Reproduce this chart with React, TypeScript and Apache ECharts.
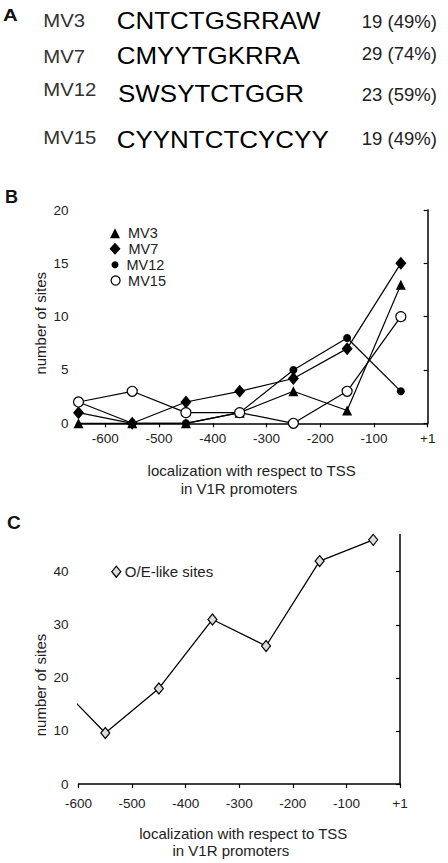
import React, { useEffect, useRef } from 'react';
import * as echarts from 'echarts';

// ---- Panel A data ----
const motifNames = ['MV3', 'MV7', 'MV12', 'MV15'];
const motifSeqs = ['CNTCTGSRRAW', 'CMYYTGKRRA', 'SWSYTCTGGR', 'CYYNTCTCYCYY'];
const motifCounts = ['19 (49%)', '29 (74%)', '23 (59%)', '19 (49%)'];

// ---- Panel B data ----
const positionsB = [-650, -550, -450, -350, -250, -150, -50];
const mv3 = [0, 0, 0, 1, 3, 1.2, 13];
const mv7 = [1, 0, 2, 3, 4.2, 7, 15];
const mv12 = [2, 0, 0, 1, 5, 8, 3];
const mv15 = [2, 3, 1, 1, 0, 3, 10];
const xTicksB = [-600, -500, -400, -300, -200, -100, 0];
const yTicksB = [0, 5, 10, 15, 20];

// ---- Panel C data ----
const positionsC = [-650, -550, -450, -350, -250, -150, -50];
const oeSites = [20, 9.6, 18, 31, 26, 42, 46];
const xTicksC = [-600, -500, -400, -300, -200, -100, 0];
const yTicksC = [0, 10, 20, 30, 40];

const FONT = '"Liberation Sans", Arial, Helvetica, sans-serif';

const pairs = (xs: number[], ys: number[]) => xs.map((x, i) => [x, ys[i]]);
const xFmt = (v: number) => (v === 0 ? '+1' : String(v));

export default function App() {
  const ref = useRef<HTMLDivElement>(null);

  useEffect(() => {
    if (!ref.current) return;
    const chart = echarts.init(ref.current, undefined, { renderer: 'svg' });

    const rowNameY = [20.8, 56.7, 90, 138.3];
    const rowSeqY = [20, 55.7, 93.7, 139];
    const rowCntY = [21.2, 53.7, 95, 138.3];
    const rowSeqX = [116.7, 116.7, 118, 116.7];

    const txt = (text: string, x: number, y: number, size: number, opts: any = {}) => ({
      type: 'text',
      x,
      y,
      scaleX: opts.scaleX ?? 1,
      rotation: opts.rotation ?? 0,
      silent: true,
      style: {
        text,
        fontSize: size,
        fontFamily: FONT,
        fontWeight: opts.bold ? 'bold' : 'normal',
        fill: opts.color ?? '#222',
        textAlign: opts.align ?? 'left',
        textVerticalAlign: 'middle',
      },
    });

    const graphics: any[] = [
      txt('A', 3, 15.5, 17, { bold: true, scaleX: 1.2, color: '#111' }),
      txt('B', 5, 196.7, 18, { bold: true, color: '#111' }),
      txt('C', 7, 522.5, 19, { bold: true, color: '#111' }),
      txt('localization with respect to TSS', 251.7, 470, 15, { align: 'center' }),
      txt('in V1R promoters', 239, 488.3, 15, { align: 'center' }),
      txt('localization with respect to TSS', 243.3, 833.3, 15, { align: 'center' }),
      txt('in V1R promoters', 230.8, 850, 15, { align: 'center' }),
      txt('number of sites', 40, 323.3, 15, { align: 'center', rotation: Math.PI / 2 }),
      txt('number of sites', 40, 685, 15, { align: 'center', rotation: Math.PI / 2 }),
    ];
    motifNames.forEach((n, i) => {
      graphics.push(txt(n, 43.3, rowNameY[i], 17.5, { scaleX: 1.16, color: '#333' }));
      graphics.push(txt(motifSeqs[i], rowSeqX[i], rowSeqY[i], 24.5, { scaleX: 1.06, color: '#000' }));
      graphics.push(txt(motifCounts[i], 361.7, rowCntY[i], 18, { scaleX: 1.03, color: '#222' }));
    });

    const axisLine = { show: true, lineStyle: { color: '#000', width: 1.5 } };
    const axisTickX = (vals: number[]) => ({
      show: true, inside: false, length: 4, customValues: vals, lineStyle: { color: '#000', width: 1.2 },
    });

    const legendB = (name: string, icon: string, w: number, h: number, cy: number, style: any) => ({
      orient: 'vertical',
      left: 115 - w / 2,
      top: cy - Math.max(h, 14) / 2,
      padding: 0,
      itemWidth: w,
      itemHeight: h,
      selectedMode: false,
      data: [{ name, icon }],
      itemStyle: style,
      textStyle: { fontSize: 14.5, lineHeight: 14, color: '#222', fontFamily: FONT, padding: [0, 0, 0, 3] },
    });

    const black = { color: '#000', borderColor: '#000', borderWidth: 0 };
    const open = { color: '#fff', borderColor: '#000', borderWidth: 1.2 };
    const grey = { color: '#dcdcdc', borderColor: '#000', borderWidth: 1.2 };

    const lineBase = {
      type: 'line',
      xAxisIndex: 0,
      yAxisIndex: 0,
      showAllSymbol: true,
      clip: true,
      lineStyle: { color: '#000', width: 1.2 },
      emphasis: { disabled: true },
    };

    chart.setOption({
      animation: false,
      backgroundColor: '#fff',
      textStyle: { fontFamily: FONT },
      graphic: graphics,
      grid: [
        { left: 78.5, top: 210, width: 349.2, height: 213.3 },
        { left: 78.5, top: 534.55, width: 321.5, height: 249.45 },
      ],
      xAxis: [
        {
          type: 'value', gridIndex: 0, min: -650, max: 0,
          axisLine, axisTick: axisTickX(xTicksB), splitLine: { show: false },
          axisLabel: { customValues: xTicksB, formatter: xFmt, margin: 8, fontSize: 13.5, color: '#222', fontFamily: FONT },
        },
        {
          type: 'value', gridIndex: 1, min: -600, max: 0,
          axisLine, axisTick: axisTickX(xTicksC), splitLine: { show: false },
          axisLabel: { customValues: xTicksC, formatter: xFmt, margin: 12.5, fontSize: 13.5, color: '#222', fontFamily: FONT },
        },
      ],
      yAxis: [
        {
          type: 'value', gridIndex: 0, min: 0, max: 20, interval: 5,
          axisLine, axisTick: { show: true, length: 4, customValues: yTicksB, lineStyle: { color: '#000', width: 1.2 } },
          splitLine: { show: false },
          axisLabel: { customValues: yTicksB, margin: 10, fontSize: 13.5, color: '#222', fontFamily: FONT },
        },
        {
          type: 'value', gridIndex: 1, min: 0, max: 47,
          axisLine, axisTick: { show: true, length: 4, customValues: yTicksC, lineStyle: { color: '#000', width: 1.2 } },
          splitLine: { show: false },
          axisLabel: { customValues: yTicksC, margin: 10, fontSize: 13.5, color: '#222', fontFamily: FONT },
        },
      ],
      legend: [
        legendB('MV3', 'triangle', 10, 10, 232.7, black),
        legendB('MV7', 'diamond', 11, 12, 248.3, black),
        legendB('MV12', 'circle', 7, 7, 264.3, black),
        legendB('MV15', 'circle', 9, 9, 280, open),
        {
          orient: 'vertical', left: 115.7 - 4.5, top: 571.7 - 7.5, padding: 0,
          itemWidth: 9, itemHeight: 11, selectedMode: false,
          data: [{ name: 'O/E-like sites', icon: 'diamond' }],
          itemStyle: grey,
          textStyle: { fontSize: 15, lineHeight: 15, color: '#222', fontFamily: FONT, padding: [0, 0, 0, -1] },
        },
      ],
      series: [
        { ...lineBase, name: 'MV3', data: pairs(positionsB, mv3), symbol: 'triangle', symbolSize: [10, 10], itemStyle: black },
        { ...lineBase, name: 'MV7', data: pairs(positionsB, mv7), symbol: 'diamond', symbolSize: [11, 13], itemStyle: black },
        { ...lineBase, name: 'MV12', data: pairs(positionsB, mv12), symbol: 'circle', symbolSize: 8, itemStyle: black },
        { ...lineBase, name: 'MV15', data: pairs(positionsB, mv15), symbol: 'circle', symbolSize: 10, itemStyle: open },
        {
          ...lineBase, name: 'O/E-like sites', xAxisIndex: 1, yAxisIndex: 1,
          data: pairs(positionsC, oeSites), symbol: 'diamond', symbolSize: [9, 11], itemStyle: grey,
          lineStyle: { color: '#000', width: 1.3 },
        },
      ],
    });

    return () => chart.dispose();
  }, []);

  return (
    <div
      ref={ref}
      style={{ position: 'fixed', left: 0, top: 0, width: 448, height: 863, background: '#fff' }}
    />
  );
}
